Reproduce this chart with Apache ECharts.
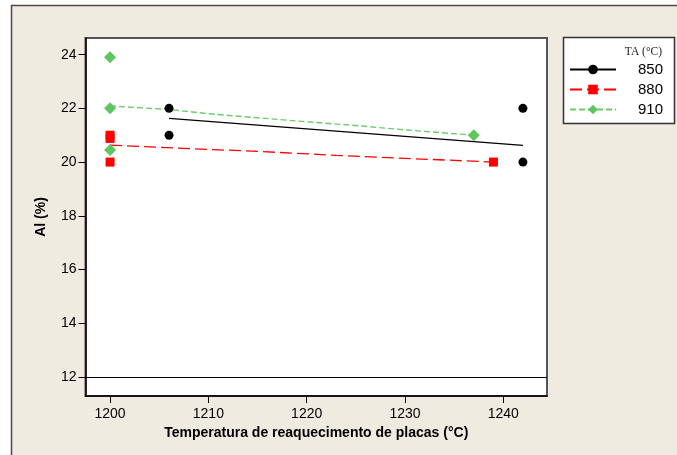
<!DOCTYPE html>
<html>
<head>
<meta charset="utf-8">
<style>
html,body{margin:0;padding:0;background:#fff;}
#chart{width:677px;height:455px;}
</style>
<script src="https://cdn.jsdelivr.net/npm/echarts@6/dist/echarts.min.js"></script>
</head>
<body>
<div id="chart"></div>
<script>
// ---- data ----
const xTicks = [1200, 1210, 1220, 1230, 1240];
const yTicks = [12, 14, 16, 18, 20, 22, 24];
const groupNames = ['850', '880', '910'];

const pts850X = [1206, 1206, 1242, 1242];
const pts850Y = [22, 21, 22, 20];
const pts880X = [1200, 1200, 1200, 1239];
const pts880Y = [21.0, 20.88, 20.0, 20.0];
const pts910X = [1200, 1200, 1200, 1237];
const pts910Y = [23.9, 22.0, 20.45, 21.0];

const fit850X = [1206, 1242];
const fit850Y = [21.63, 20.62];
const fit880X = [1200, 1208, 1215, 1223, 1230, 1239];
const fit880Y = [20.63, 20.5, 20.4, 20.25, 20.14, 20.0];
const fit910X = [1200, 1206, 1210, 1215, 1220, 1225, 1230, 1237];
const fit910Y = [22.09, 21.96, 21.8, 21.65, 21.5, 21.36, 21.2, 21.0];

const refLineY = 12;

function zip(xs, ys) { return xs.map((x, i) => [x, ys[i]]); }

const black = '#000000';
const red = '#ff0000';
const greenMark = '#5fc55f';
const greenLine = '#6ccc6c';
const font = '"Liberation Sans", Arial, sans-serif';

const chart = echarts.init(document.getElementById('chart'));
chart.setOption({
  animation: false,
  backgroundColor: 'transparent',
  graphic: [
    { type: 'rect', z: -100, silent: true,
      shape: { x: 11.5, y: 5.5, width: 720, height: 500 },
      style: { fill: '#efebe1', stroke: '#4a4a4a', lineWidth: 1.5 } },
    { type: 'rect', z: 10, silent: true,
      shape: { x: 563.5, y: 37.5, width: 111, height: 86 },
      style: { fill: '#ffffff', stroke: '#333333', lineWidth: 1.5 } },
    { type: 'text', z: 20, silent: true, x: 662, y: 51.5,
      style: { text: 'TA (°C)', fill: '#222', font: '11.5px "Liberation Serif", serif',
               textAlign: 'right', textVerticalAlign: 'middle' } }
  ],
  grid: {
    left: 85.5, top: 38, right: 130, bottom: 59,
    show: true, backgroundColor: '#ffffff', borderColor: '#555555', borderWidth: 2
  },
  legend: {
    z: 30,
    orient: 'vertical', left: 569, top: 62, padding: 0,
    itemWidth: 46, itemHeight: 12, itemGap: 5,
    data: groupNames,
    textStyle: { fontFamily: font, fontSize: 15, color: '#000', padding: [0, 0, 0, 17] }
  },
  xAxis: {
    type: 'value', min: 1197.5, max: 1244.45,
    name: 'Temperatura de reaquecimento de placas (°C)',
    nameLocation: 'middle', nameGap: 28,
    nameTextStyle: { fontFamily: font, fontSize: 14, fontWeight: 'bold', color: '#000' },
    splitLine: { show: false },
    axisLine: { show: true, onZero: false, lineStyle: { color: '#000', width: 1.5 } },
    axisTick: { show: true, length: 7, customValues: xTicks, lineStyle: { color: '#000' } },
    axisLabel: { customValues: xTicks, margin: 11, fontFamily: font, fontSize: 14, color: '#000',
                 formatter: v => String(v) }
  },
  yAxis: {
    type: 'value', min: 11.29, max: 24.62,
    name: 'Al (%)',
    nameLocation: 'middle', nameGap: 37,
    nameTextStyle: { fontFamily: font, fontSize: 14, fontWeight: 'bold', color: '#000' },
    splitLine: { show: false },
    axisLine: { show: true, onZero: false, lineStyle: { color: '#000', width: 1.5 } },
    axisTick: { show: true, length: 7, customValues: yTicks, lineStyle: { color: '#000' } },
    axisLabel: { customValues: yTicks, margin: 9, fontFamily: font, fontSize: 14, color: '#000',
                 formatter: v => String(v) }
  },
  series: [
    { name: '850', type: 'line', data: zip(fit850X, fit850Y), showSymbol: false, symbol: 'circle',
      itemStyle: { color: black }, lineStyle: { color: black, width: 1.3, type: 'solid' }, z: 3,
      markLine: { silent: true, symbol: 'none', label: { show: false },
        lineStyle: { color: '#000', width: 1.2, type: 'solid' }, data: [{ yAxis: refLineY }] } },
    { name: '880', type: 'line', data: zip(fit880X, fit880Y), showSymbol: false, symbol: 'rect',
      itemStyle: { color: red }, lineStyle: { color: red, width: 1.3, type: [12, 5] }, z: 3 },
    { name: '910', type: 'line', data: zip(fit910X, fit910Y), showSymbol: false, symbol: 'diamond',
      itemStyle: { color: greenMark }, lineStyle: { color: greenLine, width: 1.4, type: [6, 3] }, z: 3 },
    { type: 'scatter', data: zip(pts850X, pts850Y), symbol: 'circle', symbolSize: 9,
      itemStyle: { color: black, opacity: 1 }, z: 4 },
    { type: 'scatter', data: zip(pts880X, pts880Y), symbol: 'rect', symbolSize: 9,
      itemStyle: { color: red, opacity: 1 }, z: 4 },
    { type: 'scatter', data: zip(pts910X, pts910Y), symbol: 'diamond', symbolSize: 12,
      itemStyle: { color: greenMark, opacity: 1 }, z: 4 }
  ]
});
</script>
</body>
</html>
